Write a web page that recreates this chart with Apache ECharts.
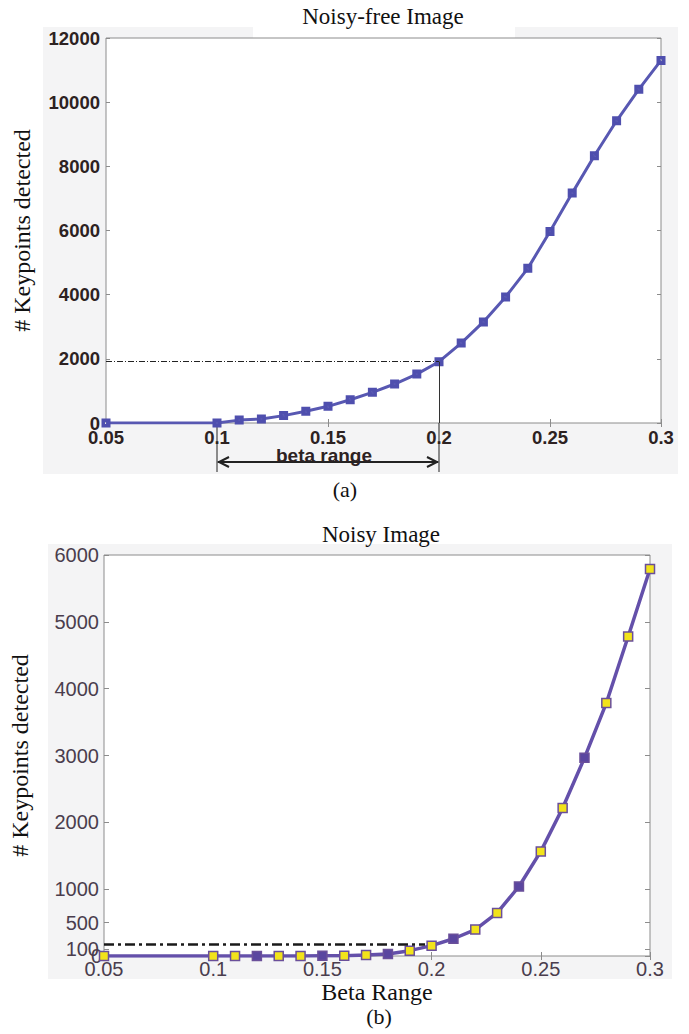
<!DOCTYPE html>
<html>
<head>
<meta charset="utf-8">
<script src="https://cdn.jsdelivr.net/npm/echarts@6/dist/echarts.min.js"></script>
<style>
  html, body { margin: 0; padding: 0; background: #fff; }
  #chart { width: 689px; height: 1034px; }
</style>
</head>
<body>
<div id="chart"></div>
<script>
// beta values on the x axis (shared by both plots)
const betaValues = [0.05, 0.10, 0.11, 0.12, 0.13, 0.14, 0.15, 0.16, 0.17, 0.18, 0.19,
                    0.20, 0.21, 0.22, 0.23, 0.24, 0.25, 0.26, 0.27, 0.28, 0.29, 0.30];
// (a) noise-free image
const noiseFreeCounts = [0, 0, 90, 125, 230, 365, 520, 725, 955, 1215, 1525,
                         1910, 2490, 3150, 3930, 4820, 5970, 7165, 8330, 9420, 10400, 11300];
// (b) noisy image
const noisyCounts = [0, 0, 0, 0, 0, 0, 5, 5, 15, 30, 80,
                     155, 258, 395, 645, 1040, 1565, 2215, 2965, 3785, 4780, 5790];
const noisyYTicks = [0, 100, 500, 1000, 2000, 3000, 4000, 5000, 6000];
const solidMarkerBetas = [0.12, 0.15, 0.18, 0.21, 0.24, 0.27];
const rangeStart = 0.1, rangeEnd = 0.2;
const noisyRefLevel = 170;

const refLevel = noiseFreeCounts[betaValues.indexOf(rangeEnd)];

const serif = 'Liberation Serif';
const sans = 'Liberation Sans';
const boxColor = '#8c8c8c';
const plain = v => String(Math.round(v * 1000) / 1000);
const labelA = { color: '#2d2222', fontFamily: sans, fontWeight: 'bold', fontSize: 18.5, formatter: plain };
const labelB = { color: '#4a3d4d', fontFamily: sans, fontSize: 20, formatter: plain };

function xAxisFor(grid, pos, label) {
    return {
        type: 'value', gridIndex: grid, position: pos,
        min: 0.05, max: 0.3, interval: 0.05,
        axisLine: { show: false },
        axisTick: { show: true, inside: true, length: 4, lineStyle: { color: boxColor } },
        axisLabel: label ? Object.assign({ margin: 5 }, label) : { show: false },
        splitLine: { show: false }
    };
}

const chart = echarts.init(document.getElementById('chart'), null, { renderer: 'svg' });

const option = {
    animation: false,
    backgroundColor: '#fff',
    grid: [
        { left: 106, top: 38, right: 28, height: 385, show: true, backgroundColor: '#fff', borderColor: boxColor, borderWidth: 1 },
        { left: 103, top: 555, right: 39, height: 401, show: true, backgroundColor: '#fff', borderColor: boxColor, borderWidth: 1 }
    ],
    xAxis: [
        xAxisFor(0, 'bottom', labelA),
        xAxisFor(0, 'top', null),
        Object.assign(xAxisFor(1, 'bottom', Object.assign({}, labelB, { margin: 3 })), {
            name: 'Beta Range', nameLocation: 'middle', nameGap: 24,
            nameTextStyle: { fontFamily: serif, fontSize: 24, color: '#111' }
        }),
        xAxisFor(1, 'top', null)
    ],
    yAxis: [
        {
            type: 'value', gridIndex: 0, position: 'left', min: 0, max: 12000, interval: 2000,
            name: '# Keypoints detected', nameLocation: 'middle', nameGap: 72,
            nameTextStyle: { fontFamily: serif, fontSize: 24, color: '#111' },
            axisLine: { show: false },
            axisTick: { show: true, inside: true, length: 4, lineStyle: { color: boxColor } },
            axisLabel: Object.assign({ margin: 6 }, labelA),
            splitLine: { show: false }
        },
        {
            type: 'value', gridIndex: 0, position: 'right', min: 0, max: 12000, interval: 2000,
            axisLine: { show: false },
            axisTick: { show: true, inside: true, length: 4, lineStyle: { color: boxColor } },
            axisLabel: { show: false }, splitLine: { show: false }
        },
        {
            type: 'value', gridIndex: 1, position: 'left', min: 0, max: 6000,
            name: '# Keypoints detected', nameLocation: 'middle', nameGap: 72,
            nameTextStyle: { fontFamily: serif, fontSize: 24, color: '#111' },
            axisLine: { show: false },
            axisTick: { show: true, inside: true, length: 5, customValues: noisyYTicks, lineStyle: { color: boxColor } },
            axisLabel: Object.assign({ margin: 5, customValues: noisyYTicks.slice(1), hideOverlap: false }, labelB),
            splitLine: { show: false }
        },
        {
            type: 'value', gridIndex: 1, position: 'right', min: 0, max: 6000,
            axisLine: { show: false },
            axisTick: { show: true, inside: true, length: 5, customValues: noisyYTicks, lineStyle: { color: boxColor } },
            axisLabel: { show: false }, splitLine: { show: false }
        },
        {
            // the "0" label of plot (b) sits on top of "100", as in the figure
            type: 'value', gridIndex: 1, position: 'left', min: 0, max: 6000,
            axisLine: { show: false }, axisTick: { show: false }, splitLine: { show: false },
            axisLabel: Object.assign({ margin: 2, customValues: noisyYTicks.slice(0, 1), showMinLabel: true }, labelB)
        }
    ],
    series: [
        {
            name: 'Noisy-free Image', type: 'line', xAxisIndex: 0, yAxisIndex: 0,
            data: betaValues.map((b, i) => [b, noiseFreeCounts[i]]),
            symbol: 'path://M0,0H10V10H0Z M4,4V6H6V4Z', symbolSize: 9,
            lineStyle: { color: '#5858b2', width: 3 },
            itemStyle: { color: '#4f4fae' },
            markLine: {
                silent: true, symbol: 'none', label: { show: false },
                data: [
                    [{ coord: [0.05, refLevel], lineStyle: { type: [6, 2, 1, 2], color: '#222', width: 1 } },
                     { coord: [rangeEnd, refLevel] }],
                    [{ coord: [rangeEnd, refLevel], lineStyle: { type: 'solid', color: '#333', width: 1 } },
                     { coord: [rangeEnd, 0] }]
                ]
            },
            z: 3
        },
        {
            name: 'Noisy Image', type: 'line', xAxisIndex: 2, yAxisIndex: 2,
            data: betaValues.map((b, i) => [b, noisyCounts[i]]),
            symbol: 'rect', symbolSize: 9,
            lineStyle: { color: '#6450aa', width: 3.5 },
            itemStyle: {
                color: p => solidMarkerBetas.includes(p.value[0]) ? '#5a46a0' : '#f2e31b',
                borderColor: '#6a4f9a', borderWidth: 1.5
            },
            markLine: {
                silent: true, symbol: 'none', label: { show: false },
                data: [
                    [{ coord: [0.05, noisyRefLevel], lineStyle: { type: [10, 4, 3, 4], color: '#1a1a1a', width: 2.5 } },
                     { coord: [rangeEnd - 0.003, noisyRefLevel] }]
                ]
            },
            z: 3
        }
    ]
};
chart.setOption(option);

// annotations below plot (a), placed through the axis scales
const p0 = chart.convertToPixel({ gridIndex: 0 }, [rangeStart, 0]);
const p1 = chart.convertToPixel({ gridIndex: 0 }, [rangeEnd, 0]);
const arrowY = p0[1] + 39;
const lineEndY = p0[1] + 49;
const ink = '#222';

chart.setOption({
    graphic: [
        { type: 'rect', z: -10, shape: { x: 43, y: 27, width: 635, height: 447 }, style: { fill: '#f4f4f5' } },
        { type: 'rect', z: -9, shape: { x: 253, y: 27, width: 262, height: 11 }, style: { fill: '#fff' } },
        { type: 'rect', z: -10, shape: { x: 48, y: 544, width: 624, height: 435 }, style: { fill: '#f4f4f5' } },
        { type: 'text', style: { text: 'Noisy-free Image', x: 383, y: 16, align: 'center', verticalAlign: 'middle', font: '23px "' + serif + '"', fill: '#111' } },
        { type: 'text', style: { text: '(a)', x: 345, y: 489, align: 'center', verticalAlign: 'middle', font: '22px "' + serif + '"', fill: '#111' } },
        { type: 'text', style: { text: 'Noisy Image', x: 381, y: 534, align: 'center', verticalAlign: 'middle', font: '23px "' + serif + '"', fill: '#111' } },
        { type: 'text', style: { text: '(b)', x: 379, y: 1016, align: 'center', verticalAlign: 'middle', font: '22px "' + serif + '"', fill: '#111' } },
        { type: 'line', shape: { x1: p0[0], y1: p0[1], x2: p0[0], y2: lineEndY }, style: { stroke: ink, lineWidth: 1 } },
        { type: 'line', shape: { x1: p1[0], y1: p1[1], x2: p1[0], y2: lineEndY }, style: { stroke: ink, lineWidth: 1 } },
        { type: 'line', shape: { x1: p0[0] + 1, y1: arrowY, x2: p1[0] - 1, y2: arrowY }, style: { stroke: ink, lineWidth: 2 } },
        { type: 'polyline', shape: { points: [[p0[0] + 12, arrowY - 5], [p0[0] + 2, arrowY], [p0[0] + 12, arrowY + 5]] }, style: { stroke: ink, lineWidth: 2, fill: 'none' } },
        { type: 'polyline', shape: { points: [[p1[0] - 12, arrowY - 5], [p1[0] - 2, arrowY], [p1[0] - 12, arrowY + 5]] }, style: { stroke: ink, lineWidth: 2, fill: 'none' } },
        { type: 'text', style: { text: 'beta range', x: (p0[0] + p1[0]) / 2 - 4, y: arrowY - 7, align: 'center', verticalAlign: 'middle', font: 'bold 19px "' + sans + '"', fill: '#2d2222' } }
    ]
});
</script>
</body>
</html>
